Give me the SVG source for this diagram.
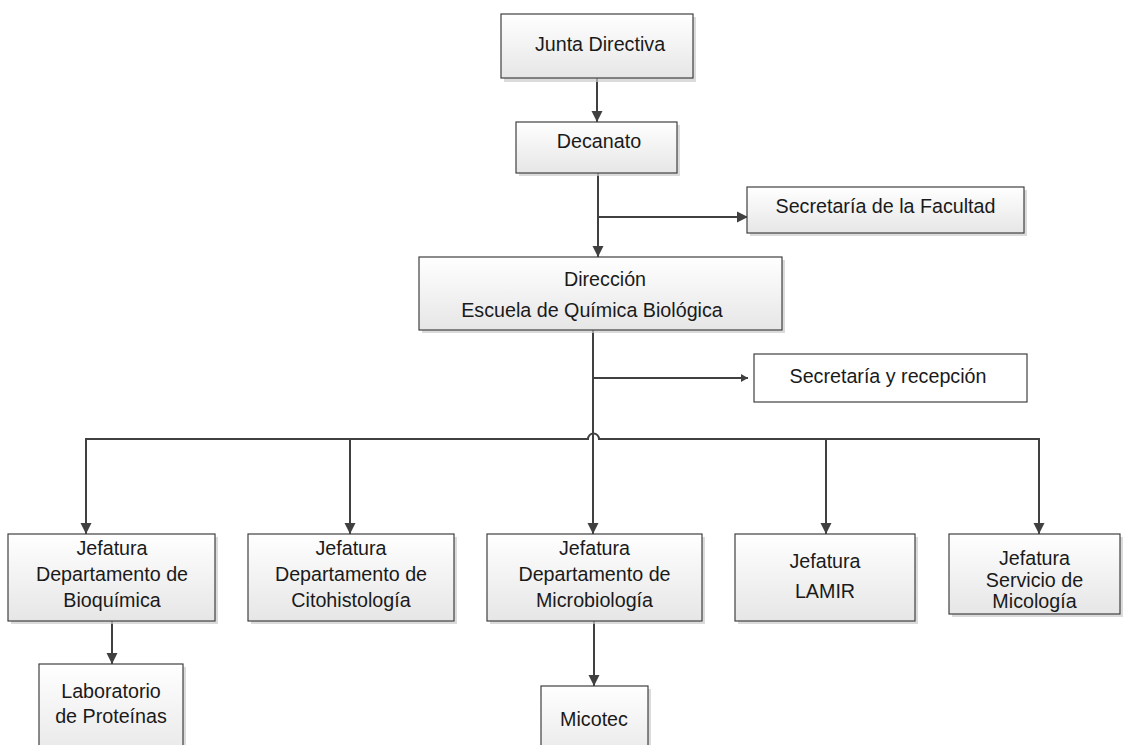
<svg xmlns="http://www.w3.org/2000/svg" width="1124" height="745" viewBox="0 0 1124 745">
<defs>
<linearGradient id="g" x1="0" y1="0" x2="0" y2="1">
<stop offset="0" stop-color="#ffffff"/>
<stop offset="1" stop-color="#e6e6e6"/>
</linearGradient>
<marker id="ah" markerUnits="userSpaceOnUse" markerWidth="12" markerHeight="12" viewBox="0 0 12 12" refX="11" refY="6" orient="auto">
<path d="M0,0.5 L11,6 L0,11.5 Z" fill="#404040"/>
</marker>
<marker id="as" markerUnits="userSpaceOnUse" markerWidth="8" markerHeight="8" viewBox="0 0 8 8" refX="7" refY="4" orient="auto">
<path d="M0,0 L7,4 L0,8 Z" fill="#404040"/>
</marker>
</defs>
<style>
.box{fill:url(#g);stroke:#404040;stroke-width:1.2}
.plain{fill:#ffffff;stroke:#404040;stroke-width:1.2}
.sh{fill:#cccccc;opacity:0.7}
.t{font-family:"Liberation Sans",Arial,sans-serif;font-size:19.7px;fill:#1a1a1a;text-anchor:middle}
.c{fill:none;stroke:#404040;stroke-width:2}
</style>
<rect width="1124" height="745" fill="#ffffff"/>

<g id="connectors">
<line class="c" x1="597" y1="78" x2="597" y2="122" marker-end="url(#ah)"/>
<line class="c" x1="598" y1="173" x2="598" y2="257" marker-end="url(#ah)"/>
<line class="c" x1="598" y1="217" x2="748" y2="217" marker-end="url(#ah)"/>
<line class="c" x1="593" y1="330" x2="593" y2="534" marker-end="url(#ah)"/>
<line class="c" x1="593" y1="378" x2="748" y2="378" marker-end="url(#as)"/>
<path class="c" d="M86,440 L86,439 L588,439 A5.5,5.5 0 0 1 599,439 L1039,439 L1039,440"/>
<line class="c" x1="86" y1="438" x2="86" y2="534" marker-end="url(#ah)"/>
<line class="c" x1="350" y1="439" x2="350" y2="534" marker-end="url(#ah)"/>
<line class="c" x1="826" y1="439" x2="826" y2="534" marker-end="url(#ah)"/>
<line class="c" x1="1039" y1="438" x2="1039" y2="534" marker-end="url(#ah)"/>
<line class="c" x1="112" y1="621" x2="112" y2="664" marker-end="url(#ah)"/>
<line class="c" x1="594" y1="621" x2="594" y2="686" marker-end="url(#ah)"/>
</g>

<g id="junta">
<rect class="sh" x="504" y="17" width="192" height="65"/>
<rect class="box" x="501" y="14" width="192" height="64"/>
<text class="t" x="600" y="51">Junta Directiva</text>
</g>

<g id="decanato">
<rect class="sh" x="519" y="125" width="161" height="51"/>
<rect class="box" x="516" y="122" width="161" height="51"/>
<text class="t" x="599" y="148">Decanato</text>
</g>

<g id="secretaria-facultad">
<rect class="sh" x="750" y="190" width="277" height="46"/>
<rect class="box" x="747" y="187" width="277" height="46"/>
<text class="t" x="885.5" y="213">Secretaría de la Facultad</text>
</g>

<g id="direccion">
<rect class="sh" x="422" y="260" width="363" height="73"/>
<rect class="box" x="419" y="257" width="363" height="73"/>
<text class="t" x="605" y="286">Dirección</text>
<text class="t" x="592" y="317">Escuela de Química Biológica</text>
</g>

<g id="secretaria-recepcion">
<rect class="plain" x="754" y="354" width="273" height="48"/>
<text class="t" x="888" y="383">Secretaría y recepción</text>
</g>

<g id="bioquimica">
<rect class="sh" x="11" y="537" width="207" height="87"/>
<rect class="box" x="8" y="534" width="207" height="87"/>
<text class="t" x="112" y="555">Jefatura</text>
<text class="t" x="112" y="581">Departamento de</text>
<text class="t" x="112" y="607">Bioquímica</text>
</g>

<g id="citohistologia">
<rect class="sh" x="251" y="537" width="206" height="87"/>
<rect class="box" x="248" y="534" width="206" height="87"/>
<text class="t" x="351" y="555">Jefatura</text>
<text class="t" x="351" y="581">Departamento de</text>
<text class="t" x="351" y="607">Citohistología</text>
</g>

<g id="microbiologia">
<rect class="sh" x="490" y="537" width="215" height="87"/>
<rect class="box" x="487" y="534" width="215" height="87"/>
<text class="t" x="594.5" y="555">Jefatura</text>
<text class="t" x="594.5" y="581">Departamento de</text>
<text class="t" x="594.5" y="607">Microbiología</text>
</g>

<g id="lamir">
<rect class="sh" x="738" y="537" width="180" height="87"/>
<rect class="box" x="735" y="534" width="180" height="87"/>
<text class="t" x="825" y="568">Jefatura</text>
<text class="t" x="825" y="598">LAMIR</text>
</g>

<g id="micologia">
<rect class="sh" x="952" y="537" width="171" height="80"/>
<rect class="box" x="949" y="534" width="171" height="80"/>
<text class="t" x="1034.5" y="565">Jefatura</text>
<text class="t" x="1034.5" y="587">Servicio de</text>
<text class="t" x="1034.5" y="608">Micología</text>
</g>

<g id="laboratorio">
<rect class="sh" x="42" y="667" width="144" height="100"/>
<rect class="box" x="39" y="664" width="144" height="100"/>
<text class="t" x="111" y="698">Laboratorio</text>
<text class="t" x="111" y="723">de Proteínas</text>
</g>

<g id="micotec">
<rect class="sh" x="544" y="689" width="107" height="80"/>
<rect class="box" x="541" y="686" width="107" height="80"/>
<text class="t" x="594" y="726">Micotec</text>
</g>
</svg>
